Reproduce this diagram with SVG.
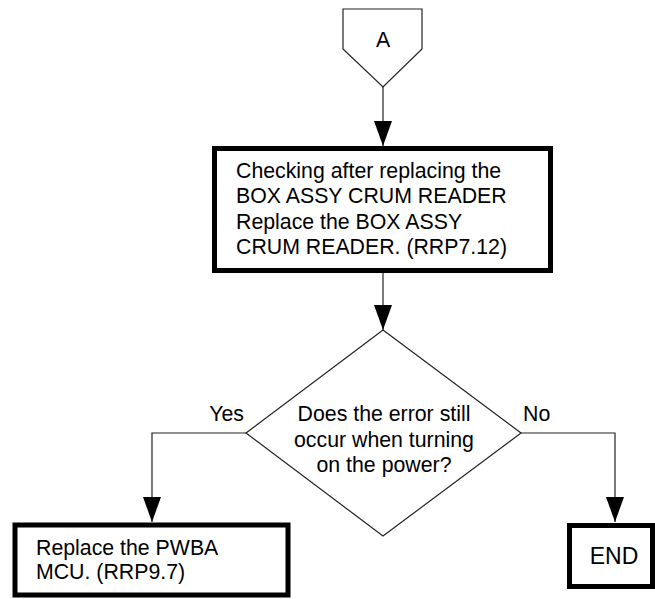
<svg xmlns="http://www.w3.org/2000/svg" width="655" height="599" viewBox="0 0 655 599">
<defs>
<style>
.thin{fill:none;stroke:#222;stroke-width:1.2}
.box{fill:#fff;stroke:#000;stroke-width:5}
.shape{fill:#fff;stroke:#222;stroke-width:1.2}
text{font-family:"Liberation Sans",Arial,sans-serif;font-size:21.3px;fill:#000}
.c{text-anchor:middle}
</style>
<marker id="arr" viewBox="0 0 25 18" refX="25" refY="9" markerWidth="25" markerHeight="18" markerUnits="userSpaceOnUse" orient="auto">
<path d="M0,0 L25,9 L0,18 Z" fill="#000"/>
</marker>
</defs>
<rect width="655" height="599" fill="#fff"/>
<g id="connectors">
<line class="thin" x1="383" y1="87" x2="383" y2="146" marker-end="url(#arr)"/>
<line class="thin" x1="383" y1="273" x2="383" y2="330" marker-end="url(#arr)"/>
<polyline class="thin" points="246,433 152,433 152,522" marker-end="url(#arr)"/>
<polyline class="thin" points="521,433 615,433 615,522" marker-end="url(#arr)"/>
<text x="244" y="421" text-anchor="end">Yes</text>
<text x="523" y="421">No</text>
</g>
<g id="nodeA">
<polygon class="shape" points="343,9 422,9 422,49 383,87 343,49"/>
<text class="c" x="383" y="47">A</text>
</g>
<g id="nodeCheck">
<rect class="box" x="214.5" y="148.5" width="336" height="122"/>
<text x="236" y="177.5">Checking after replacing the</text>
<text x="236" y="203">BOX ASSY CRUM READER</text>
<text x="236" y="228.5">Replace the BOX ASSY</text>
<text x="236" y="254">CRUM READER. (RRP7.12)</text>
</g>
<g id="nodeDecision">
<polygon class="shape" points="383,330 521,433 383,536 246,433"/>
<text class="c" x="384" y="421">Does the error still</text>
<text class="c" x="384" y="446.5">occur when turning</text>
<text class="c" x="384" y="472">on the power?</text>
</g>
<g id="nodePWBA">
<rect class="box" x="15" y="525" width="273" height="70"/>
<text x="36" y="554.5">Replace the PWBA</text>
<text x="36" y="579">MCU. (RRP9.7)</text>
</g>
<g id="nodeEND">
<rect class="box" x="569.5" y="525.5" width="83" height="61"/>
<text class="c" x="614" y="564" style="font-size:23px">END</text>
</g>
</svg>
